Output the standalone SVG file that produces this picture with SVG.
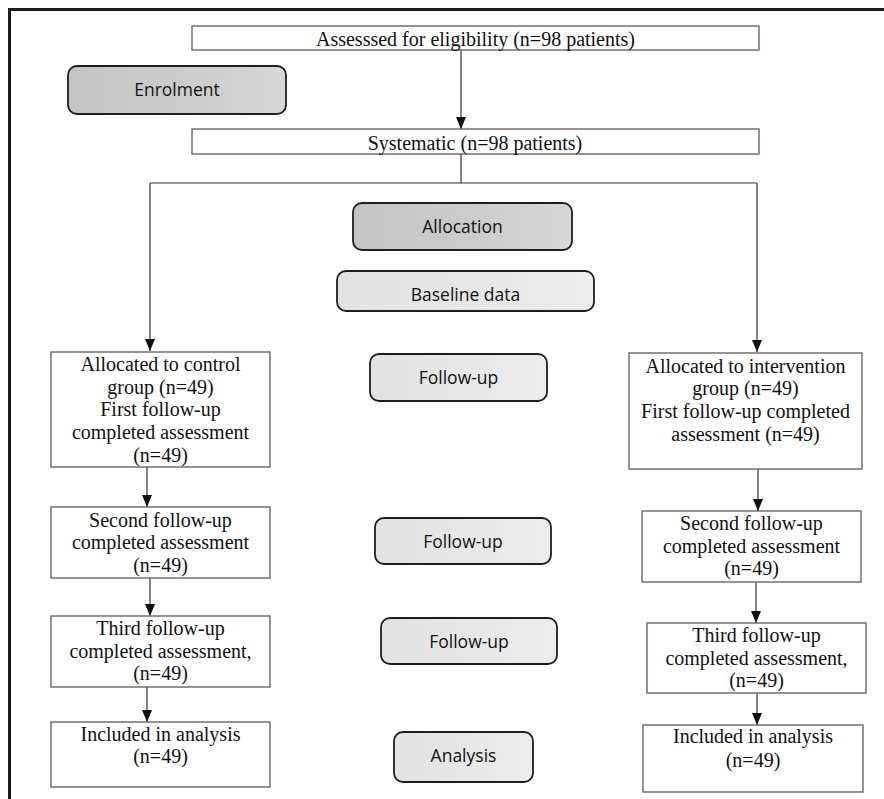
<svg xmlns="http://www.w3.org/2000/svg" width="884" height="799" viewBox="0 0 884 799">
<defs>
<marker id="ah" markerWidth="12" markerHeight="10" refX="12" refY="5" orient="auto" markerUnits="userSpaceOnUse" viewBox="0 0 12 10">
<path d="M0,0 L12,5 L0,10 Z" fill="#111"/>
</marker>
<linearGradient id="dg" x1="0" y1="0" x2="1" y2="0">
<stop offset="0" stop-color="#c4c4c4"/><stop offset="0.6" stop-color="#cdcdcd"/><stop offset="1" stop-color="#d8d8d8"/>
</linearGradient>
<linearGradient id="lg" x1="0" y1="0" x2="1" y2="0">
<stop offset="0" stop-color="#e2e2e2"/><stop offset="1" stop-color="#ececec"/>
</linearGradient>
<style>
.box{fill:#fff;stroke:#6e6464;stroke-width:1.4}
.dark{fill:url(#dg);stroke:#1e1e1e;stroke-width:1.8}
.light{fill:url(#lg);stroke:#1e1e1e;stroke-width:1.8}
.t{font-family:"Liberation Serif","Times New Roman",serif;font-size:20px;fill:#111;text-anchor:middle}
.s{font-family:"Open Sans","Noto Sans",sans-serif;font-size:17.5px;fill:#111;text-anchor:middle}
.c{fill:none;stroke:#333;stroke-width:1.2}
.ca{fill:none;stroke:#333;stroke-width:1.2;marker-end:url(#ah)}
</style>
</defs>
<rect width="884" height="799" fill="#fff"/>
<g id="frame">
<line x1="8" y1="9.5" x2="884" y2="9.5" stroke="#1a1a1a" stroke-width="3"/>
<line x1="9.5" y1="8" x2="9.5" y2="799" stroke="#1a1a1a" stroke-width="3"/>
</g>
<g id="connectors">
<line class="ca" x1="461" y1="50" x2="461" y2="129"/>
<line class="c" x1="461" y1="154" x2="461" y2="183"/>
<line class="c" x1="150" y1="183" x2="757" y2="183"/>
<line class="ca" x1="150" y1="183" x2="150" y2="351"/>
<line class="ca" x1="757" y1="183" x2="757" y2="352"/>
<line class="ca" x1="147" y1="467" x2="147" y2="507"/>
<line class="ca" x1="150" y1="578" x2="150" y2="616"/>
<line class="ca" x1="147" y1="687" x2="147" y2="722"/>
<line class="ca" x1="758" y1="469" x2="758" y2="511"/>
<line class="ca" x1="756" y1="582" x2="756" y2="623"/>
<line class="ca" x1="757" y1="693" x2="757" y2="725"/>
</g>
<g id="assessed">
<rect class="box" x="192" y="26" width="567" height="24"/>
<text class="t" x="475.5" y="45.5">Assesssed for eligibility (n=98 patients)</text>
</g>
<g id="enrolment">
<rect class="dark" x="68" y="66" width="218" height="48" rx="9"/>
<text class="s" x="177" y="95.5">Enrolment</text>
</g>
<g id="systematic">
<rect class="box" x="192" y="129" width="567" height="25"/>
<text class="t" x="475" y="149.5">Systematic (n=98 patients)</text>
</g>
<g id="allocation">
<rect class="dark" x="353" y="203" width="219" height="47" rx="9"/>
<text class="s" x="462.5" y="232.5">Allocation</text>
</g>
<g id="baseline">
<rect class="light" x="337" y="271" width="257" height="40" rx="9"/>
<text class="s" x="465.5" y="300.5">Baseline data</text>
</g>
<g id="followup1">
<rect class="light" x="370" y="354" width="177" height="47" rx="9"/>
<text class="s" x="458.5" y="383.5">Follow-up</text>
</g>
<g id="followup2">
<rect class="light" x="375" y="518" width="176" height="46" rx="9"/>
<text class="s" x="463" y="548">Follow-up</text>
</g>
<g id="followup3">
<rect class="light" x="381" y="618" width="176" height="46" rx="9"/>
<text class="s" x="469" y="648">Follow-up</text>
</g>
<g id="analysis">
<rect class="light" x="394" y="732" width="139" height="50" rx="9"/>
<text class="s" x="463.5" y="762">Analysis</text>
</g>
<g id="control1">
<rect class="box" x="51" y="352" width="219" height="115"/>
<text class="t" x="160.5" y="371">Allocated to control</text>
<text class="t" x="160.5" y="393.7">group (n=49)</text>
<text class="t" x="160.5" y="416.4">First follow-up</text>
<text class="t" x="160.5" y="439">completed assessment</text>
<text class="t" x="160.5" y="461.7">(n=49)</text>
</g>
<g id="control2">
<rect class="box" x="51" y="507" width="219" height="71"/>
<text class="t" x="160.5" y="526.7">Second follow-up</text>
<text class="t" x="160.5" y="549">completed assessment</text>
<text class="t" x="160.5" y="571.7">(n=49)</text>
</g>
<g id="control3">
<rect class="box" x="51" y="616" width="219" height="71"/>
<text class="t" x="160.5" y="635">Third follow-up</text>
<text class="t" x="160.5" y="658">completed assessment,</text>
<text class="t" x="160.5" y="680">(n=49)</text>
</g>
<g id="control4">
<rect class="box" x="51" y="722" width="219" height="65"/>
<text class="t" x="160.5" y="740.7">Included in analysis</text>
<text class="t" x="160.5" y="762.7">(n=49)</text>
</g>
<g id="intervention1">
<rect class="box" x="629" y="353" width="233" height="116"/>
<text class="t" x="745.5" y="372.7">Allocated to intervention</text>
<text class="t" x="745.5" y="395">group (n=49)</text>
<text class="t" x="745.5" y="418">First follow-up completed</text>
<text class="t" x="745.5" y="440.7">assessment (n=49)</text>
</g>
<g id="intervention2">
<rect class="box" x="642" y="511" width="219" height="71"/>
<text class="t" x="751.5" y="530">Second follow-up</text>
<text class="t" x="751.5" y="552.7">completed assessment</text>
<text class="t" x="751.5" y="575">(n=49)</text>
</g>
<g id="intervention3">
<rect class="box" x="647" y="623" width="219" height="70"/>
<text class="t" x="756.5" y="641.7">Third follow-up</text>
<text class="t" x="756.5" y="665">completed assessment,</text>
<text class="t" x="756.5" y="686.7">(n=49)</text>
</g>
<g id="intervention4">
<rect class="box" x="643" y="725" width="220" height="67"/>
<text class="t" x="753" y="743">Included in analysis</text>
<text class="t" x="753" y="766.7">(n=49)</text>
</g>
</svg>
